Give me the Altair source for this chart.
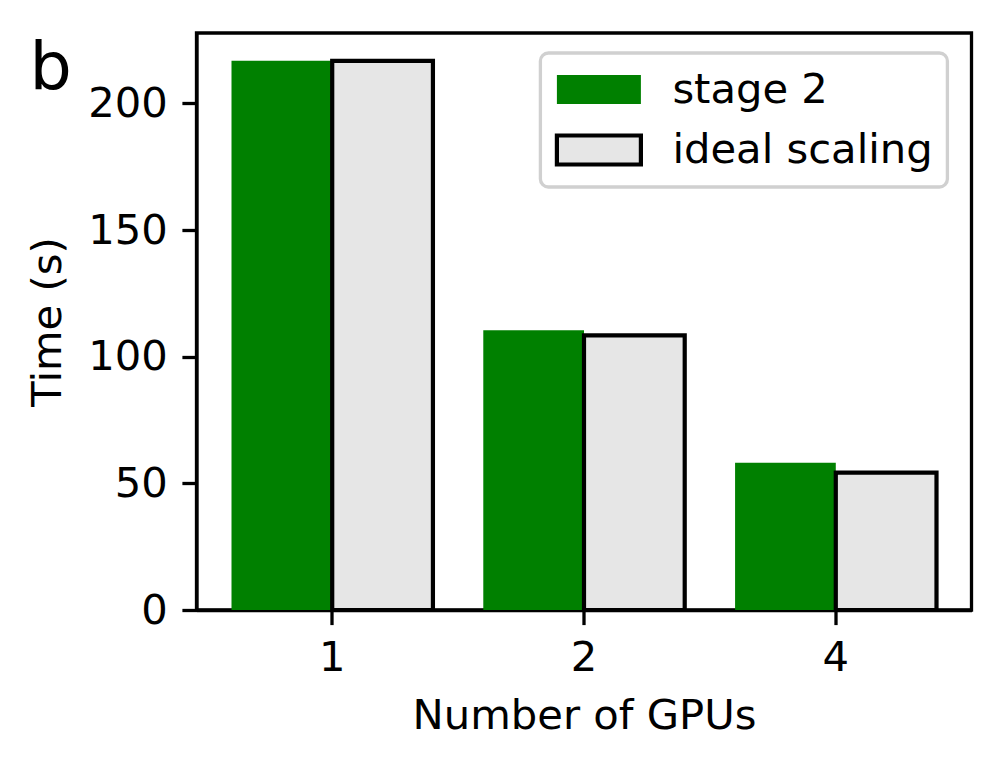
import altair as alt
import pandas as pd

gpus = ["1", "2", "4"]
stage2_times = [216.8, 110.4, 58.1]
ideal_times = [216.8, 108.4, 54.2]
series_names = ["stage 2", "ideal scaling"]
y_ticks = [0, 50, 100, 150, 200]
panel_label = ["b"]

rows = []
for g, v in zip(gpus, stage2_times):
    rows.append({"gpus": g, "series": series_names[0], "time": v})
for g, v in zip(gpus, ideal_times):
    rows.append({"gpus": g, "series": series_names[1], "time": v})
df = pd.DataFrame(rows)

FONT = "DejaVu Sans"
FS = 41.7

# legend patch 84 x 29 px drawn with symbolSize 1600 (unit = 20 px)
rect_path = "M-2.1,-0.725L2.1,-0.725L2.1,0.725L-2.1,0.725Z"

bars = alt.Chart(df).mark_bar(strokeWidth=4.2).encode(
    x=alt.X("gpus:N", sort=gpus, title="Number of GPUs",
            scale=alt.Scale(paddingInner=0.2, paddingOuter=0.139),
            axis=alt.Axis(labelAngle=0)),
    xOffset=alt.XOffset("series:N", sort=series_names,
                        scale=alt.Scale(paddingInner=0, paddingOuter=0)),
    y=alt.Y("time:Q", title="Time (s)",
            scale=alt.Scale(domain=[0, 227.8], nice=False, zero=True),
            axis=alt.Axis(values=y_ticks)),
    fill=alt.Fill("series:N", sort=series_names, title=None,
                  scale=alt.Scale(domain=series_names, range=["#008000", "#e6e6e6"])),
    stroke=alt.Stroke("series:N", sort=series_names, title=None,
                      scale=alt.Scale(domain=series_names, range=["transparent", "black"])),
    order=alt.Order("series_order:Q"),
).transform_calculate(
    series_order="datum.series === 'stage 2' ? 0 : 1"
)

label = alt.Chart(pd.DataFrame({"label": panel_label})).mark_text(
    font=FONT, fontSize=66.7, color="black", align="left", baseline="alphabetic"
).encode(
    x=alt.value(-167), y=alt.value(56), text="label:N"
)

chart = alt.layer(bars, label).properties(
    width=775,
    height=577,
    autosize=alt.AutoSizeParams(type="none"),
    padding={"left": 188.5, "top": 25, "right": 20, "bottom": 140},
).configure_view(
    stroke="black", strokeWidth=3.3
).configure_axis(
    grid=False,
    domainColor="black", domainWidth=3.3,
    tickColor="black", tickWidth=3.3, tickSize=14.6,
    labelFont=FONT, labelFontSize=FS, labelColor="black",
    titleFont=FONT, titleFontSize=FS, titleColor="black", titleFontWeight="normal",
).configure_axisY(
    labelPadding=14.6, titlePadding=18,
).configure_axisX(
    labelPadding=12.5, titlePadding=16.6,
).configure_legend(
    orient="none", legendX=343.9, legendY=20,
    strokeColor="#d0d0d0", strokeWidth=3.3, cornerRadius=8, fillColor="white",
    padding=14, rowPadding=13.5,
    labelFont=FONT, labelFontSize=FS, labelColor="black", labelOffset=51, labelLimit=0,
    symbolType=rect_path, symbolSize=1600, symbolStrokeWidth=4.2, symbolOpacity=1,
    symbolOffset=22,
)

chart.save("out.html", embed_options={"renderer": "svg", "actions": False})
